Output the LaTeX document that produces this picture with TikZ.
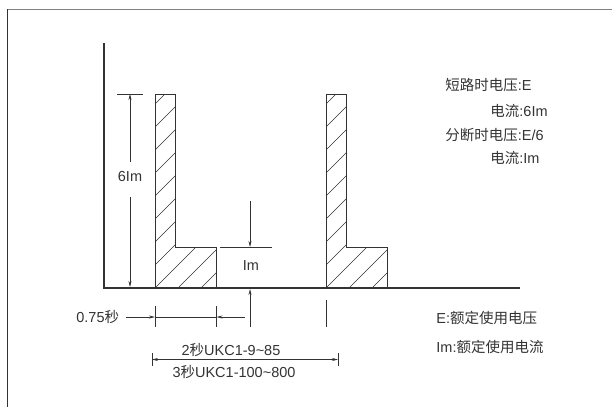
\documentclass[tikz,border=0pt]{standalone}
\usepackage{fontspec}
\setmainfont{Liberation Sans}
\newfontfamily\cjk{Noto Sans CJK SC}
\usetikzlibrary{arrows.meta}
\definecolor{ink}{HTML}{333333}
\begin{document}
\begin{tikzpicture}[x=1pt,y=-1pt,
  line width=0.8pt, draw=ink,
  lbl/.style={inner sep=0pt, text=ink, font=\fontsize{14.5}{16}\selectfont},
  arr/.style={-{Stealth[length=6pt,width=3pt]}, line width=0.7pt},
  outline/.style={draw=ink, line width=0.9pt},
  hatchline/.style={line width=0.6pt}]
\useasboundingbox (0,0) rectangle (612,407);
% frame
\draw[line width=1pt, draw=gray] (7,9) -- (612,9);
\draw[line width=1pt, draw=black!80] (7,9) -- (7,407);
% axes
\coordinate (ytop) at (104,43);
\coordinate (orig) at (104,288);
\coordinate (xend) at (520,288);
\draw[line width=1.1pt] (ytop) -- (orig) -- (xend);
% pulses
\foreach \dx/\nm in {0/a, 171/b}{
  \begin{scope}[xshift=\dx]
    \begin{scope}
      \clip (155,288) -- (155,94) -- (175,94) -- (175,247.5) -- (216,247.5) -- (216,288) -- cycle;
      \foreach \c in {259,282,...,512}{
        \draw[hatchline] (\c-300,300) -- (\c,0);
      }
    \end{scope}
    \draw[outline] (155,288) -- (155,94) -- (175,94) -- (175,247.5) -- (216,247.5) -- (216,288);
  \end{scope}
}
% 6Im dimension
\coordinate (t6a) at (117,94);
\coordinate (t6b) at (143,94);
\draw (t6a) -- (t6b);
\node[lbl] (six) at (130,177) {6Im};
\coordinate (u6) at (130,162);
\coordinate (u6t) at (130,94);
\coordinate (d6) at (130,197);
\coordinate (d6t) at (130,287);
\draw[arr] (u6) -- (u6t);
\draw[arr] (d6) -- (d6t);
% Im dimension
\coordinate (ima) at (220,247.5);
\coordinate (imb) at (272,247.5);
\draw (ima) -- (imb);
\node[lbl] (im) at (251,266) {Im};
\coordinate (imd) at (250,201);
\coordinate (imdt) at (250,247);
\draw[arr] (imd) -- (imdt);
\coordinate (imu) at (250,327);
\coordinate (imut) at (250,289);
\draw[arr] (imu) -- (imut);
% ticks
\foreach \x in {155,216.5}{\draw (\x,306) -- (\x,327);}
\draw (326,300) -- (326,327);
% 0.75 s dimension
\node[lbl, anchor=east] (t075) at (119.5,317) {0.75{\cjk 秒}};
\coordinate (p1) at (126,317);
\coordinate (p2) at (155,317);
\coordinate (p3) at (216.5,317);
\coordinate (p4) at (245,317);
\draw[arr] (p1) -- (p2);
\draw (p2) -- (p3);
\draw[arr] (p4) -- (p3);
% 2 s / 3 s dimension
\coordinate (q1) at (152,359.5);
\coordinate (q2) at (338,359.5);
\draw (152,353) -- (152,366);
\draw (338,353) -- (338,366);
\draw[arr, {Stealth[length=6pt,width=3pt]}-{Stealth[length=6pt,width=3pt]}] (q1) -- (q2);
\node[lbl] (two) at (231,349.5) {2{\cjk 秒}UKC1-9\textasciitilde85};
\node[lbl] (three) at (234,372) {3{\cjk 秒}UKC1-100\textasciitilde800};
% right texts
\node[lbl, anchor=west] (r1) at (445,85) {{\cjk 短路时电压}:E};
\node[lbl, anchor=west] (r2) at (490,110.5) {{\cjk 电流}:6Im};
\node[lbl, anchor=west] (r3) at (445,135) {{\cjk 分断时电压}:E/6};
\node[lbl, anchor=west] (r4) at (490,158) {{\cjk 电流}:Im};
\node[lbl, anchor=west] (r5) at (436,318) {E:{\cjk 额定使用电压}};
\node[lbl, anchor=west] (r6) at (436,347) {Im:{\cjk 额定使用电流}};
\end{tikzpicture}
\end{document}
